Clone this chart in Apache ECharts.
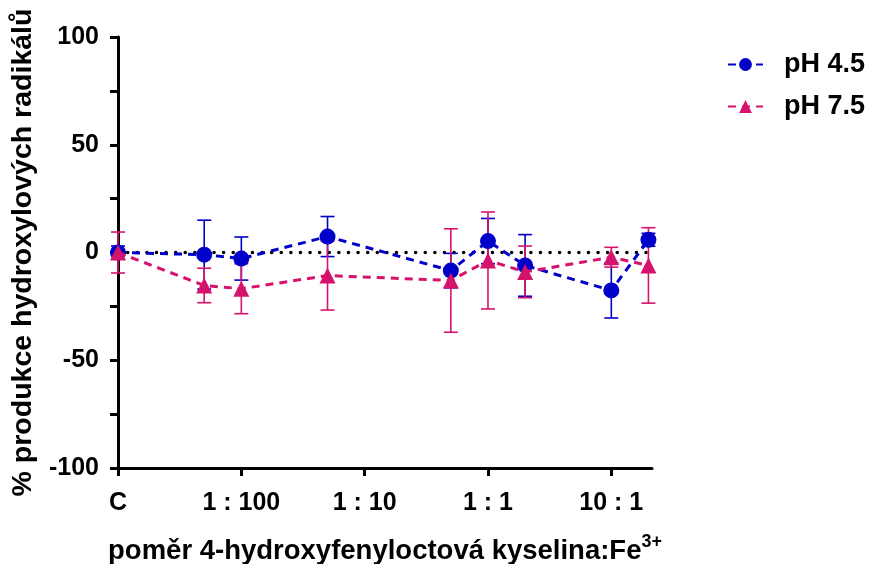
<!DOCTYPE html>
<html>
<head>
<meta charset="utf-8">
<script src="https://cdn.jsdelivr.net/npm/echarts@6/dist/echarts.min.js"></script>
<style>
  html, body { margin: 0; padding: 0; background: #fff; }
  #chart { width: 869px; height: 564px; }
</style>
</head>
<body>
<div id="chart"></div>
<script>
// x positions on log10 scale of the ratio; C (control) is drawn at -3
let xPos = [-3, -2.301, -2, -1.301, -0.301, 0, 0.301, 1, 1.301];
let tickValues = [-3, -2, -1, 0, 1];
let tickLabels = ['C', '1 : 100', '1 : 10', '1 : 1', '10 : 1'];

let ph45Mean = [0, -1, -2.8, 7.4, -8.4, 5.3, -6, -17.6, 5.9];
let ph45Sd   = [3, 16, 10, 9.3, 8, 10.5, 14.3, 12.8, 3];
let ph75Mean = [0, -15.3, -16.8, -10.7, -13, -3.7, -9, -2.2, -6];
let ph75Sd   = [9.5, 8, 11.6, 16, 24, 22.5, 12, 4.6, 17.5];

let blue = '#0000c8';
let pink = '#d6136c';
let font = 'Liberation Sans, Arial, sans-serif';

function pts(mean){
    let out = [];
    for(let i = 0; i < xPos.length; i++){
        out.push([xPos[i], mean[i]]);
    }
    return out;
}
function errs(mean, sd){
    let out = [];
    for(let i = 0; i < xPos.length; i++){
        out.push([xPos[i], mean[i] - sd[i], mean[i] + sd[i]]);
    }
    return out;
}
function errRender(color){
    return function(params, api){
        let x = api.value(0);
        let lo = api.coord([x, api.value(1)]);
        let hi = api.coord([x, api.value(2)]);
        let hw = 7;
        let st = {stroke: color, lineWidth: 1.6};
        return {
            type: 'group',
            children: [
                {type: 'line', shape: {x1: hi[0], y1: hi[1], x2: lo[0], y2: lo[1]}, style: st},
                {type: 'line', shape: {x1: hi[0] - hw, y1: hi[1], x2: hi[0] + hw, y2: hi[1]}, style: st},
                {type: 'line', shape: {x1: lo[0] - hw, y1: lo[1], x2: lo[0] + hw, y2: lo[1]}, style: st}
            ]
        };
    };
}

let myChart = echarts.init(document.getElementById('chart'));
let option = {
    animation: false,
    textStyle: {fontFamily: font},
    grid: {left: 118, right: 217, top: 37, bottom: 96, containLabel: false, outerBoundsMode: 'none'},
    legend: {
        data: ['pH 4.5', 'pH 7.5'],
        orient: 'vertical',
        left: 722,
        top: 46,
        itemWidth: 35,
        itemHeight: 16,
        itemGap: 15,
        textStyle: {fontFamily: font, fontWeight: 'bold', fontSize: 27, color: '#000', padding: [0, 0, 0, 16]}
    },
    xAxis: {
        type: 'value',
        min: -3,
        max: 1.33,
        name: '{a|poměr 4-hydroxyfenyloctová kyselina:Fe}{sup|3+}',
        nameLocation: 'middle',
        nameGap: 65,
        nameTextStyle: {
            rich: {
                a: {fontFamily: font, fontWeight: 'bold', fontSize: 27.5, color: '#000', lineHeight: 32, verticalAlign: 'bottom'},
                sup: {fontFamily: font, fontWeight: 'bold', fontSize: 18, color: '#000', lineHeight: 32, verticalAlign: 'top'}
            }
        },
        splitLine: {show: false},
        axisLine: {onZero: false, lineStyle: {color: '#000', width: 3}},
        axisTick: {show: true, length: 8, lineStyle: {color: '#000', width: 3}, customValues: tickValues},
        axisLabel: {
            customValues: tickValues,
            margin: 23,
            fontFamily: font, fontWeight: 'bold', fontSize: 25, color: '#000',
            formatter: function(v){
                let i = tickValues.indexOf(Math.round(v));
                return i >= 0 ? tickLabels[i] : '';
            }
        }
    },
    yAxis: {
        type: 'value',
        min: -100,
        max: 100,
        interval: 25,
        name: '% produkce hydroxylových radikálů',
        nameLocation: 'middle',
        nameGap: 80,
        nameTextStyle: {fontFamily: font, fontWeight: 'bold', fontSize: 28.5, color: '#000'},
        splitLine: {show: false},
        axisLine: {onZero: false, lineStyle: {color: '#000', width: 3}},
        axisTick: {length: 8, lineStyle: {color: '#000', width: 3}},
        axisLabel: {
            margin: 19,
            fontFamily: font, fontWeight: 'bold', fontSize: 25, color: '#000',
            formatter: function(v){ return v % 50 === 0 ? String(v) : ''; }
        }
    },
    series: [
        {
            name: 'zero',
            type: 'line',
            data: [[-3, 0], [1.301, 0]],
            symbol: 'none',
            silent: true,
            z: 1,
            lineStyle: {color: '#000', width: 3.5, type: [0.1, 9.5], cap: 'round'}
        },
        {
            name: 'err45',
            type: 'custom',
            data: errs(ph45Mean, ph45Sd),
            encode: {x: 0, y: [1, 2]},
            renderItem: errRender(blue),
            z: 2,
            silent: true
        },
        {
            name: 'err75',
            type: 'custom',
            data: errs(ph75Mean, ph75Sd),
            encode: {x: 0, y: [1, 2]},
            renderItem: errRender(pink),
            z: 2,
            silent: true
        },
        {
            name: 'pH 4.5',
            type: 'line',
            data: pts(ph45Mean),
            symbol: 'circle',
            symbolSize: 16,
            z: 3,
            itemStyle: {color: blue},
            lineStyle: {color: blue, width: 3, type: [8, 6]}
        },
        {
            name: 'pH 7.5',
            type: 'line',
            data: pts(ph75Mean),
            symbol: 'triangle',
            symbolSize: 16,
            z: 4,
            itemStyle: {color: pink},
            lineStyle: {color: pink, width: 3, type: [8, 6]}
        }
    ]
};
myChart.clear();
myChart.setOption(option);
</script>
</body>
</html>
